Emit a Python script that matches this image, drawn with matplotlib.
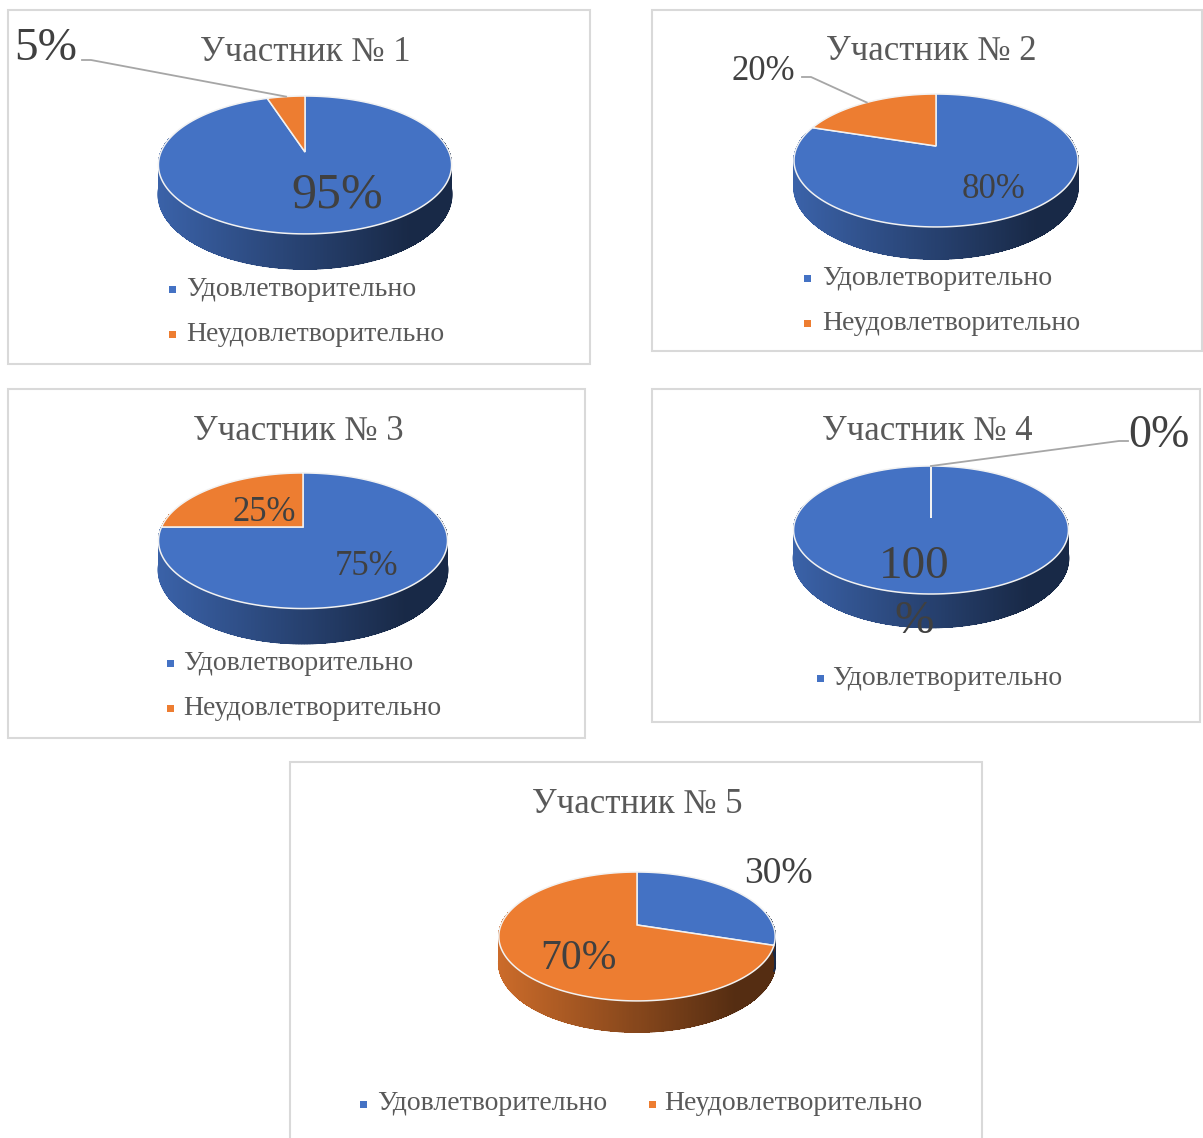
import matplotlib.pyplot as plt
import numpy as np
from matplotlib.patches import Rectangle, Polygon
from matplotlib.collections import PolyCollection, LineCollection

plt.rcParams['font.family'] = ['Liberation Serif', 'DejaVu Serif']

# survey results per participant, percent
participants = ['Участник № 1', 'Участник № 2', 'Участник № 3', 'Участник № 4', 'Участник № 5']
categories = ['Удовлетворительно', 'Неудовлетворительно']
satisfactory = [95, 80, 75, 100, 30]
unsatisfactory = [5, 20, 25, 0, 70]

colors = ['#4472C4', '#ED7D31']
TITLE_COLOR = '#595959'
LABEL_COLOR = '#404040'
LEGEND_COLOR = '#595959'
BORDER = '#D9D9D9'

# layout in pixel coordinates: box, title centre, pie geometry
# (cx, cy, half width, depth scale, thickness, perspective), label spots, legend spots
panels = [
    dict(box=(8, 10, 590, 364), title=(305, 52),
         geom=(305, 152, 144, 66.5, 28.4, 0.188),
         labels=[(337, 195, 36), (46, 49, 34)], leader=[None, (82, 60, 1)],
         legend=[(172, 186, 289), (172, 186, 334)], wrap=False),
    dict(box=(652, 10, 1202, 351), title=(931, 51),
         geom=(936, 146, 138.6, 63.3, 25, 0.218),
         labels=[(994, 189, 25), (763, 71, 25)], leader=[None, (802, 77, 1)],
         legend=[(807, 822, 278.5), (807, 822, 323.5)], wrap=False),
    dict(box=(8, 389, 585, 738), title=(298, 431),
         geom=(303, 527, 141.5, 65, 27.9, 0.203),
         labels=[(367, 566, 25), (264, 512, 25)], leader=[None, None],
         legend=[(170, 183, 663), (170, 183, 708)], wrap=False),
    dict(box=(652, 389, 1200, 722), title=(927, 431),
         geom=(931, 518, 135, 61.75, 27.2, 0.1875),
         labels=[(914, 594, 34), (1159, 436, 33)], leader=[None, (1128, 441, -1)],
         legend=[(820, 832, 678)], wrap=True),
    dict(box=(290, 762, 982, 1160), title=(637, 804),
         geom=(637, 925, 136, 62.4, 25.5, 0.178),
         labels=[(778, 874, 27), (578, 959, 30)], leader=[None, None],
         legend=[(363, 377, 1104), (652, 664, 1104)], wrap=False),
]


def proj(geom, theta, z=0.0):
    cx, cy, a, s, t, c = geom
    u = np.sin(theta)
    v = np.cos(theta)
    p = 1.0 / (1.0 + c * v)
    return cx + a * u * p, cy - s * v * p + t * z * p


def shade(color, t):
    rgb = np.array(plt.matplotlib.colors.to_rgb(color))
    f = 0.86 - 0.50 * min(t / 0.85, 1.0)
    return tuple(np.clip(rgb * f, 0, 1))


def draw_pie(ax, geom, values, panel):
    bounds = 2 * np.pi * np.cumsum([0] + values) / sum(values)
    cx, cy, a = geom[0], geom[1], geom[2]

    # front part of the side wall, with a left-to-right gradient
    th = np.linspace(0, 2 * np.pi, 721)
    mids = (th[:-1] + th[1:]) / 2
    order = [i for i in np.argsort(-np.cos(mids)) if np.cos(mids[i]) < 0.2]
    quads, cols, rim = [], [], []
    for i in order:
        x0, y0 = proj(geom, th[i])
        x1, y1 = proj(geom, th[i + 1])
        x2, y2 = proj(geom, th[i + 1], 1)
        x3, y3 = proj(geom, th[i], 1)
        quads.append([(x0, y0), (x1, y1), (x2, y2), (x3, y3)])
        k = min(np.searchsorted(bounds, mids[i]) - 1, len(values) - 1)
        xm = (x0 + x1) / 2
        t = np.clip((xm - (cx - a * 1.02)) / (2 * a * 1.02), 0, 1)
        cols.append(shade(colors[k], t))
        rim.append([(x3, y3), (x2, y2)])
    ax.add_collection(PolyCollection(quads, facecolors=cols, edgecolors=cols,
                                     linewidths=0.5, antialiased=False, zorder=2))
    # smooth lower outline of the wall
    ax.add_collection(LineCollection(rim, colors=cols, linewidths=1.2,
                                     capstyle='round', zorder=2))

    # top face
    for k, val in enumerate(values):
        if val <= 0:
            continue
        ths = np.linspace(bounds[k], bounds[k + 1], 200)
        xs, ys = proj(geom, ths)
        pts = [(cx, cy)] + list(zip(xs, ys))
        ax.add_patch(Polygon(pts, closed=True, facecolor=colors[k],
                             edgecolor='#F2F2F2', linewidth=1.1, zorder=3))

    # data labels
    for k, val in enumerate(values):
        lx, ly, fs = panel['labels'][k]
        txt = f'{val}%'
        if panel['wrap'] and k == 0:
            txt = f'{val}\n%'
        ax.text(lx, ly, txt, ha='center', va='center', fontsize=fs,
                color=LABEL_COLOR, linespacing=1.4, zorder=6)
        ld = panel['leader'][k]
        if ld is not None:
            sx, sy, side = ld
            mid = (bounds[k] + bounds[k + 1]) / 2
            ex, ey = proj(geom, mid)
            ax.plot([sx, sx + 9 * side, ex], [sy, sy, ey], color='#A6A6A6',
                    lw=1.3, zorder=5)


fig = plt.figure(figsize=(12.03, 11.38), dpi=100)
ax = fig.add_axes([0, 0, 1, 1])
ax.set_xlim(0, 1203)
ax.set_ylim(1138, 0)
ax.axis('off')

for i, panel in enumerate(panels):
    x0, y0, x1, y1 = panel['box']
    ax.add_patch(Rectangle((x0, y0), x1 - x0, y1 - y0, facecolor='white',
                           edgecolor=BORDER, linewidth=1.5, zorder=0))
    ax.text(*panel['title'], participants[i], ha='center', va='center',
            fontsize=25, color=TITLE_COLOR, zorder=6)

    values = [satisfactory[i], unsatisfactory[i]]
    draw_pie(ax, panel['geom'], values, panel)

    shown = [k for k in range(len(categories)) if values[k] > 0]
    for k, (mx, tx, ly) in zip(shown, panel['legend']):
        ax.add_patch(Rectangle((mx - 3.5, ly - 3.5), 7, 7, facecolor=colors[k],
                               edgecolor='none', zorder=4))
        ax.text(tx, ly, categories[k], ha='left', va='center', fontsize=20,
                color=LEGEND_COLOR, zorder=6)

plt.savefig('out.png', dpi=100)
